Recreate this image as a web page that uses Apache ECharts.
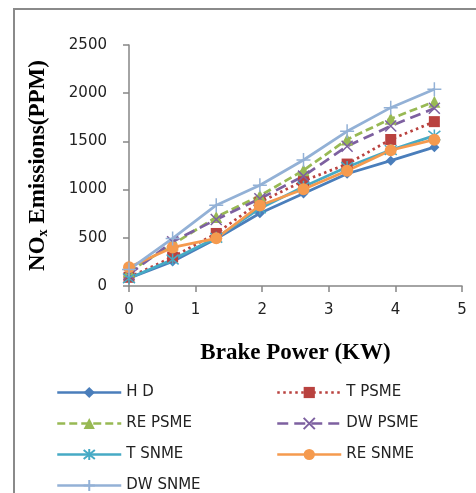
<!DOCTYPE html>
<html>
<head>
<meta charset="utf-8">
<script src="https://cdn.jsdelivr.net/npm/echarts@6/dist/echarts.min.js"></script>
<style>html,body{margin:0;padding:0;background:#fff}#c{width:476px;height:493px}</style>
</head>
<body>
<div id="c"></div>
<script>
const brakePower = [0, 0.655, 1.31, 1.965, 2.62, 3.275, 3.93, 4.585];
const HD     = [80, 255, 490, 755, 960, 1165, 1300, 1440];
const TPSME  = [90, 300, 545, 870, 1090, 1265, 1520, 1705];
const REPSME = [150, 430, 715, 935, 1200, 1520, 1735, 1912];
const DWPSME = [120, 460, 690, 905, 1140, 1450, 1660, 1843];
const TSNME  = [80, 275, 500, 805, 1030, 1235, 1410, 1560];
const RESNME = [195, 400, 495, 835, 1003, 1195, 1408, 1518];
const DWSNME = [170, 494, 838, 1045, 1307, 1605, 1850, 2040];
const seriesNames = ['H D', 'T PSME', 'RE PSME', 'DW PSME', 'T SNME', 'RE SNME', 'DW SNME'];
const xTicks = [0, 1, 2, 3, 4, 5];
const yTicks = [0, 500, 1000, 1500, 2000, 2500];

const pair = v => brakePower.map((x, i) => [x, v[i]]);
const sans = 'DejaVu Sans';
const serif = 'Liberation Serif';

function mk(name, data, color, symbol, size, lineType, strokeSymbol) {
  return {
    name, type: 'line', data: pair(data),
    symbol, symbolSize: size, showSymbol: true, showAllSymbol: true,
    lineStyle: { color, width: 2.75, type: lineType },
    itemStyle: strokeSymbol ? { color, borderColor: color, borderWidth: 1.5 } : { color, borderWidth: 0 },
    emphasis: { disabled: true },
    animation: false
  };
}

const series = [
  mk(seriesNames[0], HD, '#4A7EBB', 'diamond', 10, 'solid'),
  mk(seriesNames[1], TPSME, '#B9423F', 'rect', 11, [2.5, 3.5]),
  mk(seriesNames[2], REPSME, '#98B954', 'triangle', 12, [8, 4]),
  mk(seriesNames[3], DWPSME, '#7D60A0', 'path://M0,0L10,10M10,0L0,10', 11, [11, 6], true),
  mk(seriesNames[4], TSNME, '#46AAC5', 'path://M1,1L9,9M9,1L1,9M5,0L5,10', 12, 'solid', true),
  mk(seriesNames[5], RESNME, '#F59A4E', 'circle', 12, 'solid'),
  mk(seriesNames[6], DWSNME, '#93B1D6', 'path://M5,0L5,10M0,5L10,5', 14, 'solid', true)
];

const legendCommon = {
  orient: 'vertical', itemWidth: 64, itemHeight: 14, itemGap: 16, padding: 0,
  lineStyle: { width: 2.5 },
  textStyle: { fontFamily: sans, fontSize: 15, color: '#222' },
  selectedMode: false
};

const chart = echarts.init(document.getElementById('c'), null, { renderer: 'canvas' });
chart.setOption({
  backgroundColor: '#fff',
  animation: false,
  graphic: [{
    type: 'rect', shape: { x: 14, y: 9, width: 480, height: 500 },
    style: { fill: 'none', stroke: '#8a8a8a', lineWidth: 2 }, silent: true
  }],
  grid: { left: 129, right: 14, top: 45, bottom: 207, containLabel: false },
  xAxis: {
    type: 'value', min: 0, max: 5, interval: 1,
    axisLine: { lineStyle: { color: '#868686', width: 1.5 } },
    axisTick: { show: true, length: 6, lineStyle: { color: '#868686', width: 1.5 } },
    splitLine: { show: false },
    axisLabel: { margin: 17, fontFamily: sans, fontSize: 15, color: '#222', formatter: v => xTicks.includes(v) ? String(v) : '' },
    name: 'Brake Power (KW)', nameLocation: 'middle', nameGap: 56,
    nameTextStyle: { fontFamily: serif, fontWeight: 'bold', fontSize: 23, color: '#000' }
  },
  yAxis: {
    type: 'value', min: 0, max: 2500, interval: 500,
    axisLine: { show: true, lineStyle: { color: '#868686', width: 1.5 } },
    axisTick: { show: true, length: 6, lineStyle: { color: '#868686', width: 1.5 } },
    splitLine: { show: false },
    axisLabel: { margin: 22, fontFamily: sans, fontSize: 15, color: '#222', formatter: v => yTicks.includes(v) ? String(v) : '' },
    name: '{a|NO}{b|x}{a| Emissions(PPM)}', nameLocation: 'middle', nameGap: 79,
    nameTextStyle: {
      fontFamily: serif, fontWeight: 'bold', fontSize: 22, color: '#000',
      rich: {
        a: { fontFamily: serif, fontWeight: 'bold', fontSize: 23, color: '#000' },
        b: { fontFamily: serif, fontWeight: 'bold', fontSize: 14, color: '#000', verticalAlign: 'bottom', padding: [8, 0, 0, 0] }
      }
    }
  },
  legend: [
    Object.assign({}, legendCommon, { left: 56, top: 385, data: [seriesNames[0], seriesNames[2], seriesNames[4], seriesNames[6]] }),
    Object.assign({}, legendCommon, { left: 276, top: 385, data: [seriesNames[1], seriesNames[3], seriesNames[5]] })
  ],
  series
});
</script>
</body>
</html>
